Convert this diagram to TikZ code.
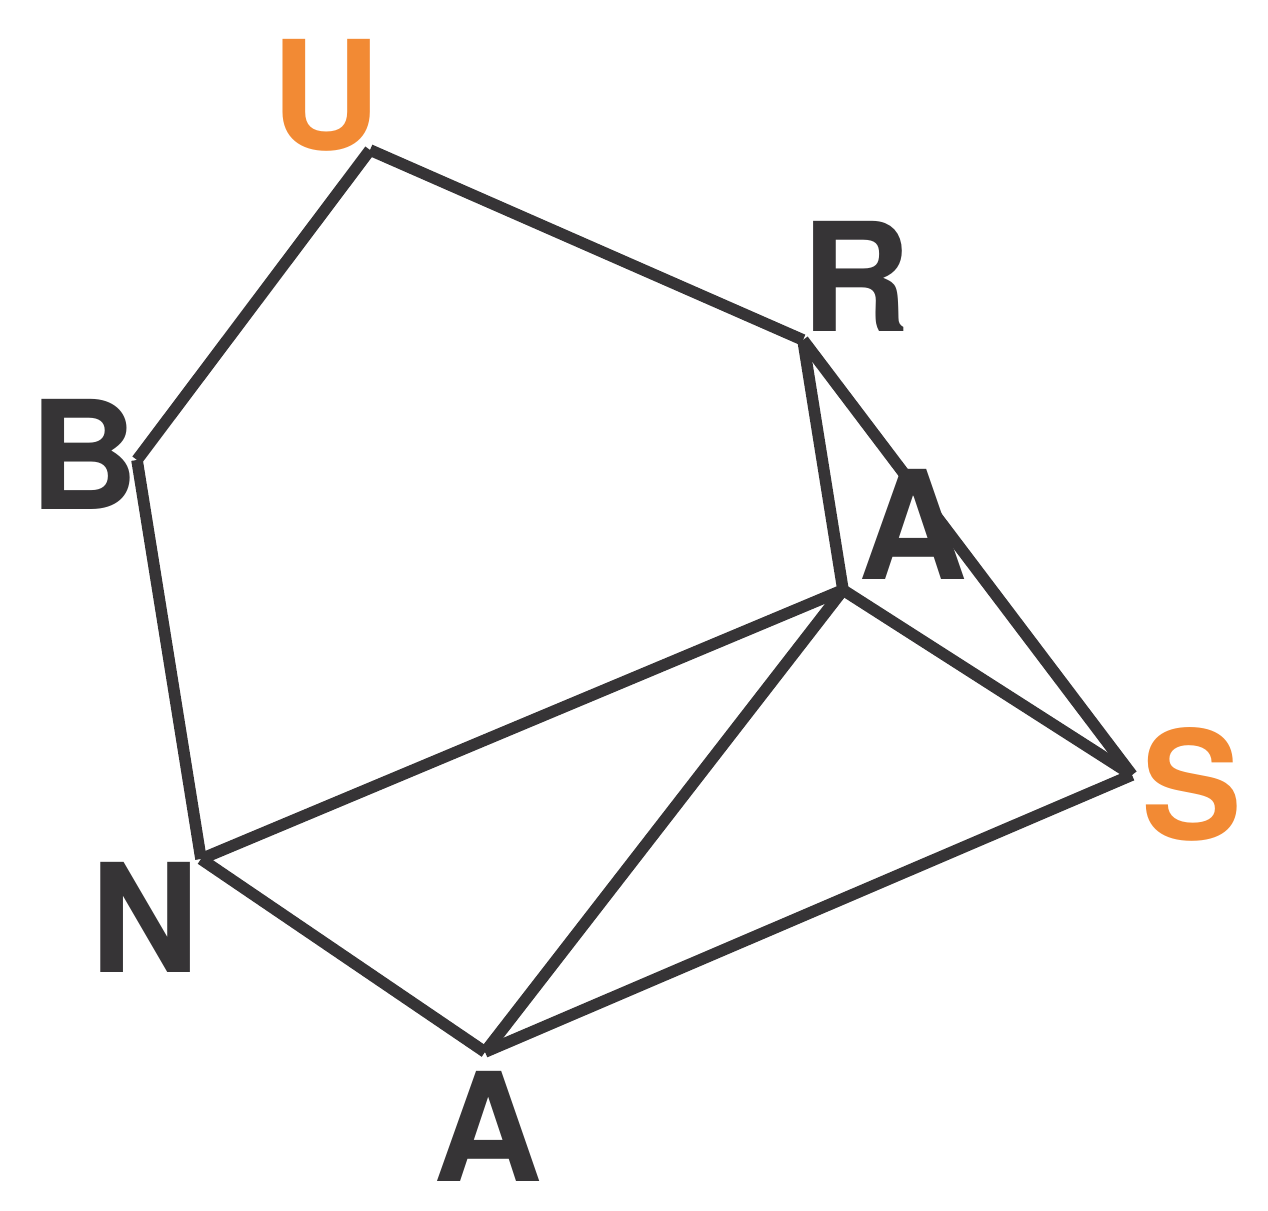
\documentclass[tikz,border=0pt]{standalone}
\usepackage{fontspec}
\setmainfont{TeX Gyre Heros}
\usepackage{tikz}
\usetikzlibrary{positioning}
\definecolor{linegray}{RGB}{54,52,54}
\definecolor{letterorange}{RGB}{242,138,52}
\tikzset{
  edge/.style={draw=linegray, line width=3.3pt},
  letter/.style={text=linegray, font=\fontsize{43}{48}\selectfont\bfseries, inner sep=0pt},
  hilite/.style={letter, text=letterorange}
}
\begin{document}
\begin{tikzpicture}
		\useasboundingbox (0,0) rectangle (12.68,12.10);
		%Corners of the figure
		\coordinate (u) at (3.70,10.60);
		\coordinate (r) at (8.03,8.70);
		\coordinate (b) at (1.37,7.50);
		\coordinate (n) at (2.01,3.51);
		\coordinate (ab) at (4.85,1.58);
		\coordinate (am) at (8.43,6.20);
		\coordinate (s) at (11.32,4.35);
		%Letters
		\node[hilite] (lu) at (3.26,11.15) {U};
		\node[letter] (lr) at (8.56,9.34) {R};
		\node[letter] (lb) at (0.84,7.56) {B};
		\node[hilite] (ls) at (11.92,4.26) {S};
		\node[letter] (ln) at (1.45,2.93) {N};
		\node[letter] (lab) at (4.88,0.84) {A};
		%Edges
		\draw[edge] (u)--(r);
		\draw[edge] (u)--(b);
		\draw[edge] (b)--(n);
		\draw[edge] (r)--(am);
		\draw[edge] (r)--(s);
		\draw[edge] (am)--(s);
		\draw[edge] (am)--(n);
		\draw[edge] (am)--(ab);
		\draw[edge] (n)--(ab);
		\draw[edge] (ab)--(s);
		%Middle A sits over the edge R--S
		\node[letter] (lam) at (9.13,6.86) {A};
\end{tikzpicture}
\end{document}
